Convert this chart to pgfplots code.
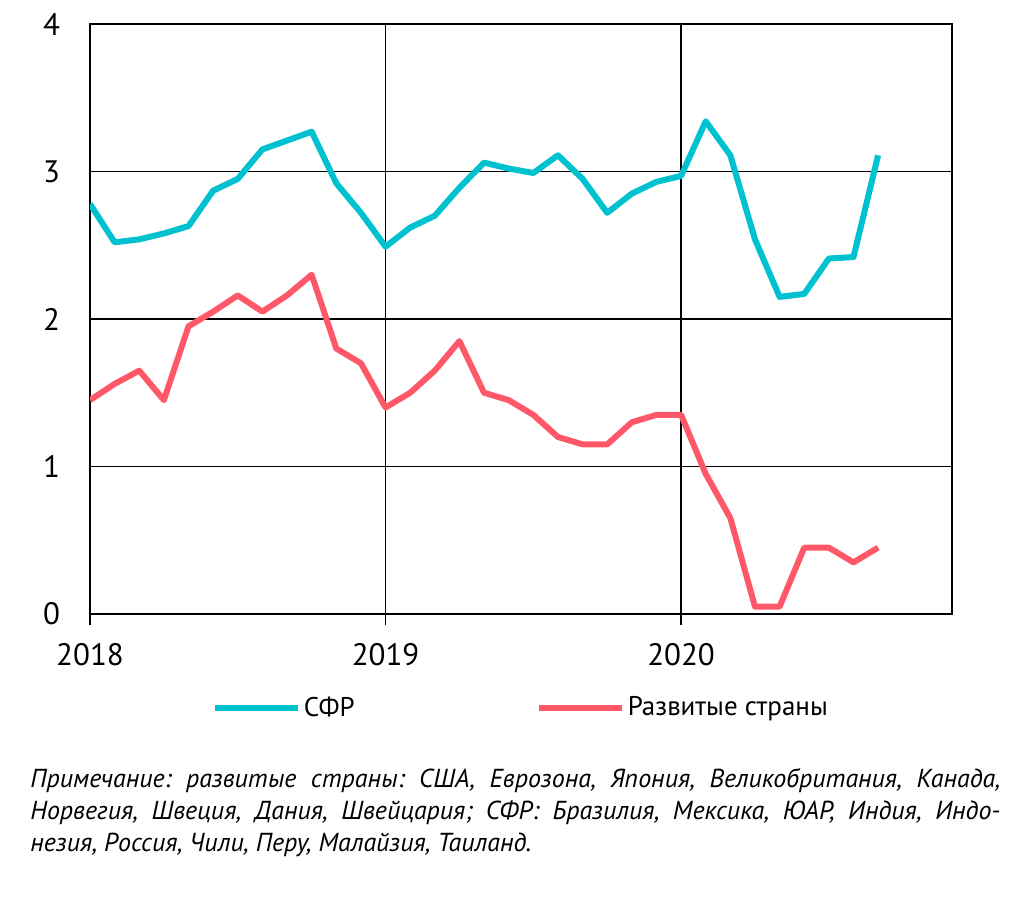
\documentclass[border=0pt]{standalone}
\usepackage{fontspec}
\setmainfont{PT Sans}
\usepackage{pgfplots}
\usepackage{pgfplotstable}
\pgfplotsset{compat=1.18}
\definecolor{sfr}{RGB}{0,193,207}
\definecolor{dev}{RGB}{255,88,104}

% month index from Jan 2018
\pgfplotstableread{
m sfr dev
0 2.78 1.45
1 2.52 1.56
2 2.54 1.65
3 2.58 1.45
4 2.63 1.95
5 2.87 2.05
6 2.95 2.16
7 3.15 2.05
8 3.21 2.16
9 3.27 2.30
10 2.92 1.80
11 2.72 1.70
12 2.49 1.40
13 2.62 1.50
14 2.70 1.65
15 2.89 1.85
16 3.06 1.50
17 3.02 1.45
18 2.99 1.35
19 3.11 1.20
20 2.95 1.15
21 2.72 1.15
22 2.85 1.30
23 2.93 1.35
24 2.97 1.35
25 3.34 0.95
26 3.11 0.65
27 2.54 0.05
28 2.15 0.05
29 2.17 0.45
30 2.41 0.45
31 2.42 0.35
32 3.11 0.45
}\rates

\begin{document}
\frenchspacing
\begin{tikzpicture}
\path[use as bounding box] (-45pt,-144.5pt) rectangle (465pt,307pt);
\begin{axis}[
  at={(0,0)}, anchor=south west,
  scale only axis,
  width=431pt, height=295pt,
  xmin=0, xmax=35, ymin=0, ymax=4,
  xtick={0,12,24}, xticklabels={2018,2019,2020},
  ytick={0,1,2,3,4},
  grid=major,
  grid style={black, line width=0.6pt},
  axis line style={line width=0.6pt},
  xtick pos=bottom, ytick pos=left,
  tick align=outside,
  major tick length=5.5pt,
  x tick style={black, line width=0.6pt},
  y tick style={draw=none},
  tick label style={font=\fontsize{15.5}{18}\selectfont},
  /pgf/number format/assume math mode=true,
  yticklabel style={xshift=-6pt},
  xticklabel style={yshift=-5.5pt},
  legend columns=2,
  legend style={at={(axis description cs:0.134,-0.159)}, anchor=west,
    draw=none, fill=none, font=\fontsize{13.5}{16}\selectfont,
    /tikz/every even column/.style={column sep=89pt},
    nodes={inner sep=1.5pt}},
  legend image code/.code={\draw[#1] (0pt,0pt) -- (41.5pt,0pt);},
]
\addplot[sfr, line width=3pt, line join=round] table[x=m, y=sfr] {\rates};
\addlegendentry{СФР}
\addplot[dev, line width=3pt, line join=round] table[x=m, y=dev] {\rates};
\addlegendentry{Развитые страны}
\end{axis}
\node[anchor=north west, text width=485pt, inner sep=0pt, align=justify,
  font=\itshape\fontsize{13}{16}\selectfont] at (-30pt,-77pt)
  {\hyphenpenalty=10000 Примечание: развитые страны: США, Еврозона, Япония, Великобритания, Канада,\linebreak
   Норвегия, Швеция, Дания, Швейцария; СФР: Бразилия, Мексика, ЮАР, Индия, Индо-\linebreak
   незия, Россия, Чили, Перу, Малайзия, Таиланд.};
\end{tikzpicture}
\end{document}
